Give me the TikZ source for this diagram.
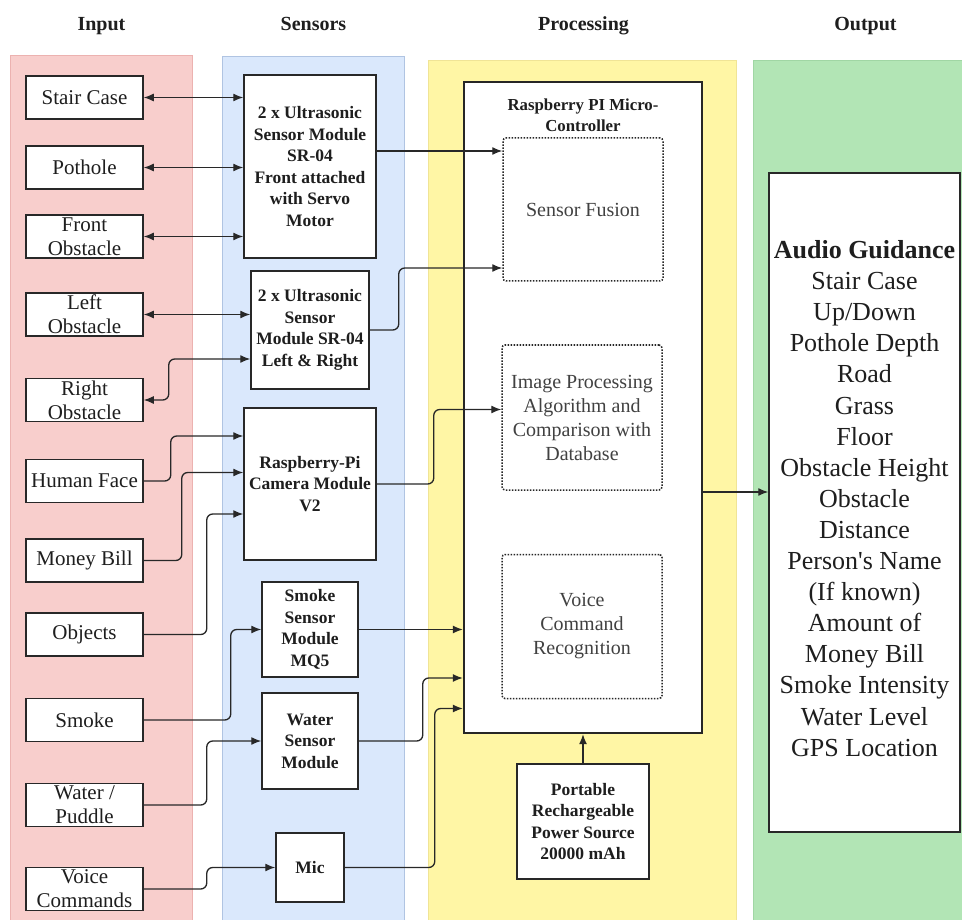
\documentclass[tikz,border=0pt]{standalone}
\usepackage{fontspec}
\setmainfont{LiberationSerif}[
  Extension=.ttf,
  UprightFont=*-Regular,
  BoldFont=*-Bold,
  ItalicFont=*-Italic,
  BoldItalicFont=*-BoldItalic]
\usetikzlibrary{arrows.meta}

\definecolor{pinkfill}{RGB}{248,206,204}
\definecolor{pinkline}{RGB}{236,178,176}
\definecolor{bluefill}{RGB}{218,232,252}
\definecolor{blueline}{RGB}{176,196,226}
\definecolor{yellowfill}{RGB}{255,246,165}
\definecolor{yellowline}{RGB}{240,228,150}
\definecolor{greenfill}{RGB}{178,229,181}
\definecolor{greenline}{RGB}{160,214,164}
\definecolor{boxline}{RGB}{40,40,40}
\definecolor{txt}{RGB}{30,30,30}
\definecolor{softtxt}{RGB}{65,65,65}

\tikzset{
  panel/.style={line width=0.8pt},
  heading/.style={font=\bfseries\fontsize{20}{24}\selectfont, text=txt, anchor=base},
  inbox/.style={draw=boxline, fill=white, line width=1.5pt, inner sep=0pt,
    minimum width=117pt, minimum height=43pt},
  intext/.style={font=\fontsize{21}{24}\selectfont, text=txt, align=center, inner sep=0pt},
  sensorbox/.style={draw=boxline, fill=white, line width=1.5pt, inner sep=0pt,
    align=center, text=txt, font=\bfseries\fontsize{17.5}{21.5}\selectfont},
  mcubox/.style={draw=black!85, fill=white, line width=2.4pt, inner sep=0pt},
  taskbox/.style={draw=black!85, fill=white, line width=1.5pt,
    dash pattern=on 1.5pt off 1.5pt, rounded corners=3pt, inner sep=0pt,
    align=center, text=softtxt, font=\fontsize{20}{24}\selectfont},
  outbox/.style={draw=boxline, fill=white, line width=1.5pt, inner sep=0pt},
  outtext/.style={align=center, text=txt, inner sep=0pt, font=\fontsize{26}{31.1}\selectfont},
  tip/.tip={Latex[length=10pt,width=8pt]},
  wire/.style={draw=boxline, line width=1.3pt, rounded corners=6pt, -tip},
  twoway/.style={draw=boxline, line width=1.3pt, rounded corners=6pt, tip-tip},
}

\begin{document}
\begin{tikzpicture}[x=1pt, y=-1pt]
  \useasboundingbox (0,0) rectangle (962,920);
  \fill[white] (0,0) rectangle (962,920);

  % column backgrounds
  \filldraw[panel, fill=pinkfill, draw=pinkline] (10,55) rectangle (192,922);
  \filldraw[panel, fill=bluefill, draw=blueline] (222,56) rectangle (404,922);
  \filldraw[panel, fill=yellowfill, draw=yellowline] (428,60) rectangle (736,922);
  \filldraw[panel, fill=greenfill, draw=greenline] (753,60) rectangle (964,922);

  % column headings
  \node[heading] (h-in)   at (101.5,31) {Input};
  \node[heading] (h-sens) at (313.5,31) {Sensors};
  \node[heading] (h-proc) at (583.5,31) {Processing};
  \node[heading] (h-out)  at (865.5,31) {Output};

  % inputs
  \node[inbox] (stair)   at (84.5,97.5) {};
  \node[intext] (stair-t) at (stair) {Stair Case};
  \node[inbox] (pothole) at (84.5,167.5) {};
  \node[intext] (pothole-t) at (pothole) {Pothole};
  \node[inbox] (front)   at (84.5,236.5) {};
  \node[intext] (front-t) at (front) {Front\\Obstacle};
  \node[inbox] (left)    at (84.5,314.5) {};
  \node[intext] (left-t) at (left) {Left\\Obstacle};
  \node[inbox] (right)   at (84.5,400) {};
  \node[intext] (right-t) at (right) {Right\\Obstacle};
  \node[inbox] (face)    at (84.5,481) {};
  \node[intext] (face-t) at (face) {Human Face};
  \node[inbox] (money)   at (84.5,560.5) {};
  \node[intext] (money-t) at (money) {Money Bill};
  \node[inbox] (objects) at (84.5,634.5) {};
  \node[intext] (objects-t) at (objects) {Objects};
  \node[inbox] (smoke)   at (84.5,720) {};
  \node[intext] (smoke-t) at (smoke) {Smoke};
  \node[inbox] (water)   at (84.5,805) {};
  \node[intext] (water-t) at (water) {Water /\\Puddle};
  \node[inbox] (voice)   at (84.5,889) {};
  \node[intext] (voice-t) at (voice) {Voice\\Commands};

  % sensors
  \node[sensorbox, minimum width=132pt, minimum height=183pt] (us1) at (310,166.5)
    {2 x Ultrasonic\\Sensor Module\\SR-04\\Front attached\\with Servo\\Motor};
  \node[sensorbox, minimum width=118pt, minimum height=118pt] (us2) at (310,330)
    {2 x Ultrasonic\\Sensor\\Module SR-04\\Left \& Right};
  \node[sensorbox, minimum width=132pt, minimum height=152pt] (cam) at (310,484)
    {Raspberry-Pi\\Camera Module\\V2};
  \node[sensorbox, minimum width=96pt, minimum height=95pt] (smk) at (310,629.5)
    {Smoke\\Sensor\\Module\\MQ5};
  \node[sensorbox, minimum width=96pt, minimum height=96pt] (wat) at (310,741)
    {Water\\Sensor\\Module};
  \node[sensorbox, minimum width=68pt, minimum height=69pt] (mic) at (310,867.5)
    {Mic};

  % processing
  \node[mcubox, minimum width=238pt, minimum height=651pt] (mcu) at (583,407.5) {};
  \node[align=center, text=txt, font=\bfseries\fontsize{16.8}{21}\selectfont]
    (mcu-t) at (583,115) {Raspberry PI Micro-\\Controller};
  \node[taskbox, minimum width=160pt, minimum height=143pt] (fusion) at (583,209.5)
    {Sensor Fusion};
  \node[taskbox, minimum width=160pt, minimum height=145pt] (imgp) at (582,417.5)
    {Image Processing\\Algorithm and\\Comparison with\\Database};
  \node[taskbox, minimum width=160pt, minimum height=144pt] (vcr) at (582,626.5)
    {Voice\\Command\\Recognition};
  \node[sensorbox, minimum width=132pt, minimum height=115pt] (power) at (583,821.5)
    {Portable\\Rechargeable\\Power Source\\20000 mAh};

  % output
  \node[outbox, minimum width=191pt, minimum height=659pt] (out) at (864.5,502.5) {};
  \node[outtext] (out-t) at (864.5,498.5)
    {\textbf{Audio Guidance}\\Stair Case\\Up/Down\\Pothole Depth\\Road\\Grass\\Floor\\
     Obstacle Height\\Obstacle\\Distance\\Person\textquotesingle s Name\\(If known)\\Amount of\\
     Money Bill\\Smoke Intensity\\Water Level\\GPS Location};

  % inputs to sensors
  \draw[twoway] (stair.east) -- (stair.east -| us1.west);
  \draw[twoway] (pothole.east) -- (pothole.east -| us1.west);
  \draw[twoway] (front.east) -- (front.east -| us1.west);
  \draw[twoway] (left.east) -- (left.east -| us2.west);
  \draw[twoway] (right.east) -- ++(25,0) |- ([yshift=-29pt]us2.west);
  \draw[wire] (face.east) -- ++(27,0) |- ([yshift=48pt]cam.west);
  \draw[wire] (money.east) -- ++(38,0) |- ([yshift=11.5pt]cam.west);
  \draw[wire] (objects.east) -- ++(63,0) |- ([yshift=-30pt]cam.west);
  \draw[wire] (smoke.east) -- ++(87,0) |- (smk.west);
  \draw[wire] (water.east) -- ++(63,0) |- (wat.west);
  \draw[wire] (voice.east) -- ++(63,0) |- (mic.west);

  % sensors to processing
  \draw[wire] ([yshift=15.5pt]us1.east) -- ([yshift=58.5pt]fusion.west);
  \draw[wire] (us2.east) -- ++(29,0) |- ([yshift=-58.5pt]fusion.west);
  \draw[wire] (cam.east) -- ++(57,0) |- ([yshift=8pt]imgp.west);
  \draw[wire] (smk.east) -- (smk.east -| mcu.west);
  \draw[wire] (wat.east) -- ++(64,0) |- ([yshift=-270.5pt]mcu.west);
  \draw[wire] (mic.east) -- ++(90,0) |- ([yshift=-301pt]mcu.west);
  \draw[wire] (power.north) -- (power.north |- mcu.south);

  % processing to output
  \draw[wire] ([yshift=-84.5pt]mcu.east) -- ([yshift=-84.5pt]mcu.east -| out.west);
\end{tikzpicture}
\end{document}
